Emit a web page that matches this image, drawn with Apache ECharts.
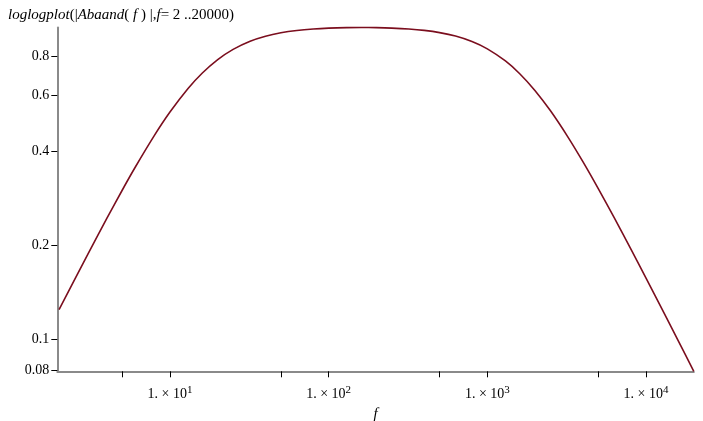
<!DOCTYPE html>
<html>
<head>
<meta charset="utf-8">
<script src="https://cdn.jsdelivr.net/npm/echarts@6/dist/echarts.min.js"></script>
<style>html,body{margin:0;padding:0;background:#fff}#c{width:703px;height:421px}</style>
</head>
<body>
<div id="c"></div>
<script>
// Frequency samples (f) and |Abaand(f)| values
const fVals = [2, 3, 4, 5, 6, 8, 10, 13, 16, 20, 25, 32, 40, 50, 63, 80, 100, 130, 160, 200,
  250, 320, 400, 500, 630, 800, 1000, 1300, 1600, 2000, 2500, 3200, 4000, 5000, 6300, 8000,
  10000, 13000, 16000, 20000];
const ampVals = [0.1247, 0.1852, 0.2438, 0.2997, 0.3528, 0.4491, 0.5320, 0.6326, 0.7090, 0.7824,
  0.8435, 0.8952, 0.9288, 0.9524, 0.9688, 0.9795, 0.9856, 0.9893, 0.9901, 0.9891,
  0.9859, 0.9792, 0.9691, 0.9535, 0.9295, 0.8933, 0.8466, 0.7744, 0.7052, 0.6227,
  0.5370, 0.4453, 0.3697, 0.3033, 0.2449, 0.1951, 0.1572, 0.1215, 0.0990, 0.0793];
// Tick positions and labels
const xTickVals = [5, 10, 50, 100, 500, 1000, 5000, 10000];
const xLabelVals = [10, 100, 1000, 10000];
const yTickVals = [0.08, 0.1, 0.2, 0.4, 0.6, 0.8];
const titleText = '{i|loglogplot}{r|(|}{i|Abaand}{r|( }{i|f}{r| ) |,}{i|f}{r|= 2 ..20000)}';

const chart = echarts.init(document.getElementById('c'), null, {renderer: 'canvas'});
const serif = '"Liberation Serif", "Times New Roman", serif';
const seriesData = fVals.map((f, i) => [f, ampVals[i]]);

chart.setOption({
  animation: false,
  backgroundColor: '#ffffff',
  title: {
    left: 3, top: 3,
    text: titleText,
    textStyle: {
      fontWeight: 'normal',
      rich: {
        i: {fontFamily: serif, fontSize: 15, fontStyle: 'italic', fontWeight: 'normal', color: '#000'},
        r: {fontFamily: serif, fontSize: 15, fontWeight: 'normal', color: '#000'}
      }
    }
  },
  grid: {left: 57.3, right: 9.2, top: 27.5, bottom: 49.7, containLabel: false, outerBoundsMode: 'none'},
  xAxis: {
    type: 'log',
    logBase: 10,
    min: 1.95, max: 20000,
    name: 'f',
    nameLocation: 'middle',
    nameGap: 34,
    nameTextStyle: {fontFamily: serif, fontSize: 15, fontStyle: 'italic', color: '#000'},
    axisLine: {show: true, lineStyle: {color: '#8a8a8a', width: 2}},
    axisTick: {show: true, length: 6, inside: false, customValues: xTickVals, lineStyle: {color: '#000', width: 1}},
    minorTick: {show: false},
    splitLine: {show: false},
    axisLabel: {
      customValues: xLabelVals,
      margin: 13,
      formatter: function (v) {
        const e = Math.round(Math.log10(v));
        return '{b|1. × 10}{s|' + e + '}';
      },
      rich: {
        b: {fontFamily: serif, fontSize: 14, color: '#000'},
        s: {fontFamily: serif, fontSize: 11, color: '#000', verticalAlign: 'bottom', padding: [0, 0, 9, 0]}
      }
    }
  },
  yAxis: {
    type: 'log',
    logBase: 10,
    min: 0.0793, max: 0.9901,
    axisLine: {show: true, lineStyle: {color: '#8a8a8a', width: 2}},
    axisTick: {show: true, length: 6, inside: false, customValues: yTickVals, lineStyle: {color: '#000', width: 1}},
    splitLine: {show: false},
    axisLabel: {
      customValues: yTickVals,
      margin: 8,
      fontFamily: serif, fontSize: 14, color: '#000',
      formatter: function (v) { return String(+(+v).toPrecision(2)); }
    }
  },
  series: [{
    type: 'line',
    data: seriesData,
    smooth: 0.3,
    showSymbol: false,
    lineStyle: {color: '#7b0e1e', width: 1.6},
    clip: false
  }]
});
</script>
</body>
</html>
